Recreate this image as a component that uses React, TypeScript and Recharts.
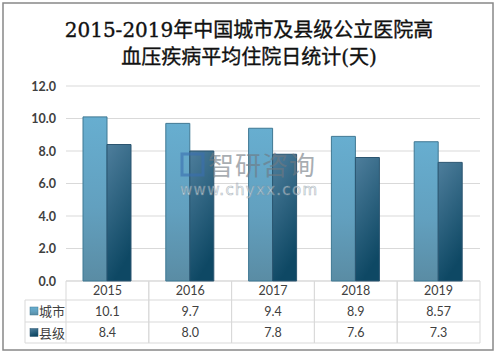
import React from "react";
import { BarChart, Bar, XAxis, YAxis, CartesianGrid } from "recharts";

const years = ["2015", "2016", "2017", "2018", "2019"];
const cityValues = [10.1, 9.7, 9.4, 8.9, 8.57];
const countyValues = [8.4, 8.0, 7.8, 7.6, 7.3];
const cityLabels = ["10.1", "9.7", "9.4", "8.9", "8.57"];
const countyLabels = ["8.4", "8.0", "7.8", "7.6", "7.3"];
const yTicks = [0, 2, 4, 6, 8, 10, 12];
const seriesNames = ["城市", "县级"];
const titleLines = ["2015-2019年中国城市及县级公立医院高", "血压疾病平均住院日统计(天)"];

const data = years.map((y, i) => ({
  year: y,
  city: cityValues[i],
  county: countyValues[i],
  cityLabel: cityLabels[i],
  countyLabel: countyLabels[i],
}));

const W = 498;
const H = 354;
const xAxisH = 73;
const margin = { top: 86, right: 18, bottom: 0, left: 10 };
const plotLeft = 66;
const plotRight = W - margin.right;
const bandW = (plotRight - plotLeft) / years.length;
const rowTop = H - xAxisH;
const rowH = [19, 22, 21];
const tableLeft = 25;
const gridColor = "#d9d9d9";
const textColor = "#404040";
const tableFont = "Lato, 'Noto Sans CJK SC', sans-serif";

const TableTick = (props: any) => {
  const { x, payload, index } = props;
  const d = data[index] || data.find((r) => r.year === payload.value);
  const left = x - bandW / 2;
  const y0 = rowTop;
  const y1 = y0 + rowH[0];
  const y2 = y1 + rowH[1];
  const y3 = y2 + rowH[2];
  return (
    <g>
      <line x1={left} y1={y0} x2={left} y2={y3} stroke={gridColor} />
      <line x1={left + bandW} y1={y0} x2={left + bandW} y2={y3} stroke={gridColor} />
      <text x={x} y={y0 + rowH[0] / 2 + 4.5} textAnchor="middle" fontSize={12.5} fill={textColor} fontFamily={tableFont}>
        {payload.value}
      </text>
      <text x={x} y={y1 + rowH[1] / 2 + 4.5} textAnchor="middle" fontSize={12.5} fill={textColor} fontFamily={tableFont}>
        {d ? d.cityLabel : ""}
      </text>
      <text x={x} y={y2 + rowH[2] / 2 + 4.5} textAnchor="middle" fontSize={12.5} fill={textColor} fontFamily={tableFont}>
        {d ? d.countyLabel : ""}
      </text>
    </g>
  );
};

const YTick = (props: any) => {
  const { x, y, payload } = props;
  return (
    <text x={x - 2} y={y + 4.5} textAnchor="end" fontSize={12.5} fontWeight={700} fill={textColor} fontFamily={tableFont}>
      {Number(payload.value).toFixed(1)}
    </text>
  );
};

export default function App() {
  const y0 = rowTop;
  const y1 = y0 + rowH[0];
  const y2 = y1 + rowH[1];
  const y3 = y2 + rowH[2];
  return (
    <div style={{ position: "absolute", left: 0, top: 0, width: W, height: H, background: "#fff" }}>
      <BarChart width={W} height={H} data={data} margin={margin} barSize={24} barGap={0}>
        <defs>
          <linearGradient id="gCity" x1="0" y1="0" x2="0" y2="1">
            <stop offset="0%" stopColor="#67aed0" />
            <stop offset="55%" stopColor="#62a0bf" />
            <stop offset="100%" stopColor="#5a8ca4" />
          </linearGradient>
          <linearGradient id="gCounty" x1="0" y1="0" x2="0.3" y2="1">
            <stop offset="0%" stopColor="#4e7e9c" />
            <stop offset="100%" stopColor="#0e4864" />
          </linearGradient>
        </defs>
        <rect x={3} y={3} width={490} height={347} fill="none" stroke="#888" strokeWidth={1.5} />
        {titleLines.map((t, i) => (
          <text
            key={i}
            x={W / 2}
            y={37 + i * 26.5}
            textAnchor="middle"
            fontSize={20}
            fontWeight={400}
            fill="#111"
            stroke="#111"
            strokeWidth={0.35}
            fontFamily="'DejaVu Serif', 'Liberation Serif', 'Noto Sans CJK SC', serif"
          >
            {t}
          </text>
        ))}
        <CartesianGrid vertical={false} stroke={gridColor} />
        <YAxis
          domain={[0, 12]}
          ticks={yTicks}
          axisLine={false}
          tickLine={false}
          width={plotLeft - margin.left}
          tick={<YTick />}
          interval={0}
        />
        <XAxis dataKey="year" axisLine={false} tickLine={false} height={xAxisH} tick={<TableTick />} interval={0} />
        <Bar dataKey="city" fill="url(#gCity)" stroke="#3f7893" strokeWidth={1} isAnimationActive={false} />
        <Bar dataKey="county" fill="url(#gCounty)" stroke="#2b5570" strokeWidth={1} isAnimationActive={false} />
        <line x1={plotLeft} y1={y0} x2={plotRight} y2={y0} stroke={gridColor} />
        <line x1={tableLeft} y1={y1} x2={plotRight} y2={y1} stroke={gridColor} />
        <line x1={tableLeft} y1={y2} x2={plotRight} y2={y2} stroke={gridColor} />
        <line x1={tableLeft} y1={y3} x2={plotRight} y2={y3} stroke={gridColor} />
        <line x1={tableLeft} y1={y1} x2={tableLeft} y2={y3} stroke={gridColor} />
        {seriesNames.map((n, i) => {
          const top = i === 0 ? y1 : y2;
          const h = i === 0 ? rowH[1] : rowH[2];
          return (
            <g key={n}>
              <rect x={30} y={top + h / 2 - 4} width={8} height={8} fill={i === 0 ? "url(#gCity)" : "url(#gCounty)"} stroke={i === 0 ? "#3f7893" : "#2b5570"} strokeWidth={0.5} />
              <text x={39} y={top + h / 2 + 5} fontSize={13} fill={textColor} fontFamily="'Noto Sans CJK SC', sans-serif">
                {n}
              </text>
            </g>
          );
        })}
      </BarChart>
      <svg width={W} height={H} style={{ position: "absolute", left: 0, top: 0, pointerEvents: "none" }}>
        <g opacity={0.6}>
          <rect x={182} y={154} width={21} height={21} fill="none" stroke="#3a6fb0" strokeWidth={3} />
          <text x={208} y={175} textAnchor="start" fontSize={26} fill="#6f7880" fontFamily="'Noto Sans CJK SC', sans-serif" letterSpacing={1}>
            智研咨询
          </text>
          <text x={180} y={195} textAnchor="start" fontSize={15} fill="#eef2f4" stroke="#7f909b" strokeWidth={0.6} fontFamily="'DejaVu Sans', sans-serif" textLength={137}>
            www.chyxx.com
          </text>
        </g>
      </svg>
    </div>
  );
}
